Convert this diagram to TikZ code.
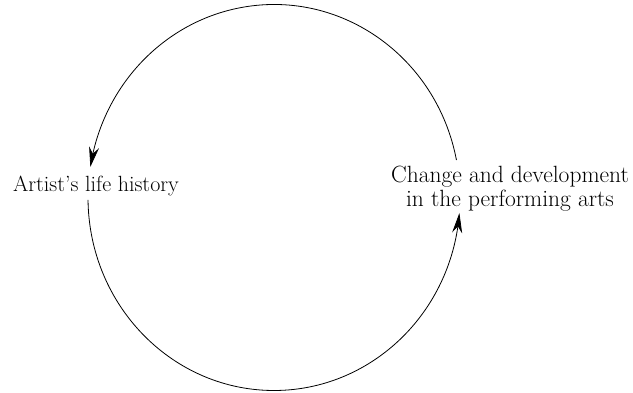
\documentclass[tikz,border=0pt]{standalone}
\usetikzlibrary{arrows.meta,bending}
\begin{document}
\begin{tikzpicture}[x=1pt,y=1pt,
  lbl/.style={inner sep=0pt},
  cyc/.style={line width=0.8pt,-{Stealth[length=20pt,width=10pt,flex]}}]
\useasboundingbox (0,0) rectangle (633,392);
\coordinate (c) at (274,194.5);
\node[lbl,anchor=base,font=\fontsize{22}{24}\selectfont] (artist) at (96,201) {Artist's life history};
\node[lbl,align=center,font=\fontsize{23.5}{24}\selectfont] (change) at (510,203) {Change and development\\in the performing arts};
\path (c) ++(11.2:186 and 193) coordinate (s1);
\path (c) ++(180.7:186 and 193) coordinate (s2);
\draw[cyc] (s1) arc[start angle=11.2,end angle=170.9,x radius=186,y radius=193];
\draw[cyc] (s2) arc[start angle=180.7,end angle=355.4,x radius=186,y radius=193];
\end{tikzpicture}
\end{document}
